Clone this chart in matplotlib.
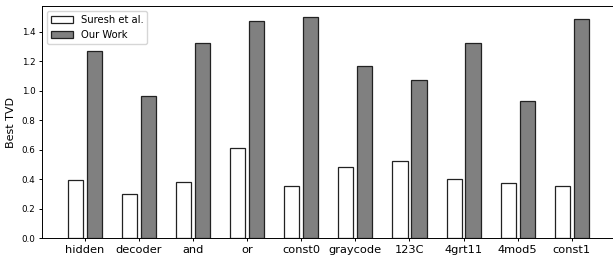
import matplotlib
matplotlib.use("Agg")
import matplotlib.pyplot as plt
import numpy as np

categories = ["hidden", "decoder", "and", "or", "const0", "graycode", "123C", "4grt11", "4mod5", "const1"]
suresh = [0.39, 0.30, 0.38, 0.61, 0.35, 0.48, 0.52, 0.40, 0.37, 0.35]
ours = [1.27, 0.965, 1.322, 1.473, 1.498, 1.168, 1.073, 1.322, 0.931, 1.487]

fig = plt.figure(figsize=(6.13, 2.59), dpi=100)
ax = fig.add_axes([41.7/613, 21/259, 573.3/613, 232/259])
x = np.arange(len(categories))
w = 0.28
off = 0.175
ax.bar(x - off, suresh, w, color="white", edgecolor="#222222", linewidth=0.9, label="Suresh et al.")
ax.bar(x + off, ours, w, color="#808080", edgecolor="#222222", linewidth=0.9, label="Our Work")
ax.set_xticks(x)
ax.set_xticklabels(categories, fontsize=8.2)
ax.set_xlim(-0.8, 9.8)
ax.set_ylim(0, 1.573)
ax.set_yticks(np.arange(0, 1.41, 0.2))
ax.tick_params(axis="y", labelsize=6.3, length=2.5, width=0.7, pad=2)
ax.tick_params(axis="x", length=2.5, width=0.7, pad=2.5)
for s in ax.spines.values():
    s.set_linewidth(0.7)
ax.set_ylabel("Best TVD", fontsize=8, labelpad=4)
ax.legend(loc="upper left", fontsize=7.2, handlelength=2.2, handleheight=0.7,
          borderaxespad=0.5, framealpha=0.8)
fig.savefig("out.png", dpi=100)
